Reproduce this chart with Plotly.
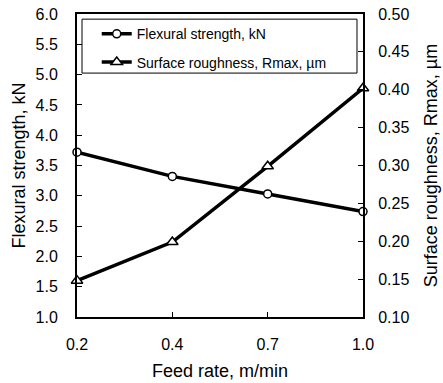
import plotly.graph_objects as go

feed_rate = ["0.2", "0.4", "0.7", "1.0"]
flexural_strength = [3.72, 3.32, 3.03, 2.74]
surface_roughness = [0.148, 0.199, 0.299, 0.402]

left_ticks = [1.0, 1.5, 2.0, 2.5, 3.0, 3.5, 4.0, 4.5, 5.0, 5.5, 6.0]
right_ticks = [0.10, 0.15, 0.20, 0.25, 0.30, 0.35, 0.40, 0.45, 0.50]

xi = list(range(len(feed_rate)))
FONT = "Liberation Sans, Arial, Helvetica, sans-serif"

fig = go.Figure()
fig.add_trace(go.Scatter(
    x=xi, y=flexural_strength, name="Flexural strength, kN",
    mode="lines+markers", legendgroup="a",
    line=dict(color="black", width=3.5),
    marker=dict(symbol="circle", size=8, color="white", line=dict(color="black", width=1.5)),
    cliponaxis=False,
))
fig.add_trace(go.Scatter(
    x=xi, y=surface_roughness, name="Surface roughness, Rmax, µm",
    mode="lines+markers", legendgroup="b", yaxis="y2",
    line=dict(color="black", width=3.5),
    marker=dict(symbol="triangle-up", size=10, color="white", line=dict(color="black", width=1.5)),
    cliponaxis=False,
))

axis_common = dict(
    showline=True, linecolor="black", linewidth=2,
    ticks="inside", ticklen=5, tickcolor="black", tickwidth=1,
    showgrid=False, zeroline=False, automargin=False,
    tickfont=dict(family=FONT, size=16, color="black"),
)

fig.update_layout(
    width=443, height=383,
    margin=dict(l=77, r=80, t=14, b=66),
    paper_bgcolor="white", plot_bgcolor="white",
    font=dict(family=FONT, color="black"),
    showlegend=True,
    legend=dict(
        x=0.069, y=0.986, xanchor="left", yanchor="top",
        bgcolor="rgba(0,0,0,0)", borderwidth=0,
        font=dict(family=FONT, size=14, color="black"),
        tracegroupgap=7, traceorder="grouped",
    ),
    xaxis=dict(
        **axis_common, range=[0, 3], tickvals=xi, ticktext=feed_rate,
        mirror=True, ticklabelstandoff=12,
        title=dict(text="Feed rate, m/min", font=dict(family=FONT, size=18), standoff=12),
    ),
    yaxis=dict(
        **axis_common, range=[1.0, 6.0], tickvals=left_ticks,
        ticktext=[f"{v:.1f}" for v in left_ticks], ticklabelstandoff=14,
        title=dict(text="Flexural strength, kN", font=dict(family=FONT, size=18), standoff=5),
    ),
    yaxis2=dict(
        **axis_common, range=[0.10, 0.50], tickvals=right_ticks,
        ticktext=[f"{v:.2f}" for v in right_ticks], overlaying="y", side="right",
        ticklabelstandoff=10,
        title=dict(text="Surface roughness, Rmax, µm", font=dict(family=FONT, size=18), standoff=16),
    ),
    shapes=[dict(
        type="rect", xref="paper", yref="paper",
        x0=0.0175, x1=0.979, y0=0.805, y1=0.983,
        line=dict(color="black", width=1), fillcolor="rgba(0,0,0,0)",
    )],
)

fig.write_html("out.html")
